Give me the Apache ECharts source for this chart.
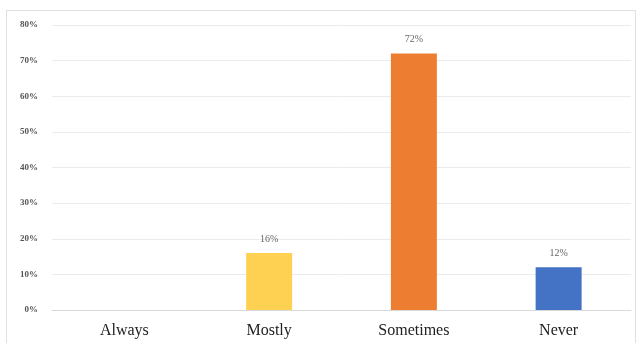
<!DOCTYPE html>
<html><head><meta charset="utf-8">
<script src="https://cdn.jsdelivr.net/npm/echarts@6/dist/echarts.min.js"></script>
<style>html,body{margin:0;padding:0;background:#fff;}#frame{position:absolute;left:6px;top:10px;width:630px;height:340px;border:1px solid #e0e0e0;box-sizing:border-box;}#c{position:absolute;left:0;top:0;width:642px;height:343px;}</style>
</head><body><div id="frame"></div><div id="c"></div>
<script>
const categories = ['Always','Mostly','Sometimes','Never'];
const values = [0, 16, 72, 12];
const colors = ['#FFD152','#FFD152','#ED7D31','#4472C4'];
const yTicks = [0,10,20,30,40,50,60,70,80];
const chart = echarts.init(document.getElementById('c'));
chart.setOption({
  animation:false,
  grid:{left:52,right:11,top:25,bottom:33},
  xAxis:{type:'category',data:categories,
    axisLine:{lineStyle:{color:'#d9d9d9'}},axisTick:{show:false},
    axisLabel:{color:'#222',fontFamily:'Liberation Serif',fontSize:16,margin:13}},
  yAxis:{type:'value',min:0,max:80,interval:10,
    axisLine:{show:false},axisTick:{show:false},
    splitLine:{lineStyle:{color:'#ebebeb'}},
    axisLabel:{formatter:v=>v+'%',color:'#555',fontFamily:'Liberation Serif',fontSize:9,fontWeight:'bold',margin:14}},
  series:[{type:'bar',barWidth:46,
    data:values.map((v,i)=>({value:v,itemStyle:{color:colors[i]},label:{show:v>0}})),
    label:{position:'top',formatter:p=>p.value+'%',color:'#666',fontFamily:'Liberation Serif',fontSize:10,distance:9}}]
});
</script></body></html>
